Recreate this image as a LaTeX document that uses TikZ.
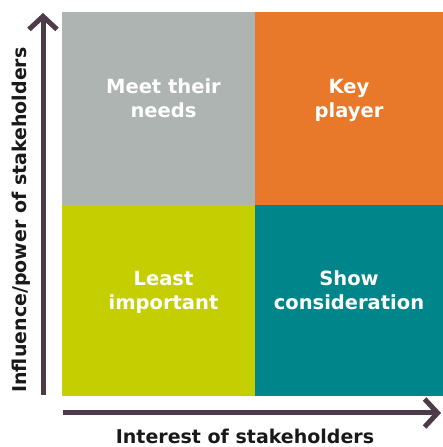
\documentclass[tikz,border=0pt]{standalone}
\usepackage{fontspec}
\setmainfont{DejaVu Sans}
\usetikzlibrary{%
  arrows.meta,%
  positioning% wg. " of "
}
\definecolor{quadgrey}{HTML}{AEB4B2}
\definecolor{quadorange}{HTML}{E8792B}
\definecolor{quadlime}{HTML}{C4CE00}
\definecolor{quadteal}{HTML}{00868A}
\definecolor{axiscol}{HTML}{4E3B4A}

\begin{document}
\begin{tikzpicture}[
    x=1pt,y=1pt,
    >={Straight Barb[length=13pt,width=28pt]},
    quad/.style={rectangle,inner sep=0pt,outer sep=0pt,
        minimum width=193pt,minimum height=193pt,anchor=north west},
    quadlabel/.style={text=white,font=\bfseries\fontsize{19.5}{24}\selectfont,
        align=center,text depth=0pt},
    axis/.style={->,line width=5pt,color=axiscol},
    axislabel/.style={text=black!90,font=\bfseries\fontsize{19}{22}\selectfont,
        anchor=base,inner sep=0pt},
    node distance=0pt
  ]
    \useasboundingbox (0,0) rectangle (442,447);

    % the four quadrants
    \node [quad,fill=quadgrey]                        (meet)  at (62,435) {};
    \node [quad,fill=quadorange,minimum width=188pt,
           right=of meet.north east,anchor=north west] (key)   {};
    \node [quad,fill=quadlime,minimum height=191pt,
           below=of meet.south west,anchor=north west] (least) {};
    \node [quad,fill=quadteal,minimum width=188pt,minimum height=191pt,
           right=of least.north east,anchor=north west] (show) {};

    \node [quadlabel] at ([xshift=5pt,yshift=10pt]meet.center)  {Meet their\\needs};
    \node [quadlabel] at ([yshift=10pt]key.center)              {Key\\player};
    \node [quadlabel] at ([xshift=5pt,yshift=10pt]least.center) {Least\\important};
    \node [quadlabel] at ([yshift=10pt]show.center)             {Show\\consideration};

    % axes
    \coordinate (yfoot) at (43,52);
    \coordinate (ytip)  at (43,434);
    \coordinate (xfoot) at (63,34);
    \coordinate (xtip)  at (441,34);
    \draw [axis] (yfoot) -- (ytip);
    \draw [axis] (xfoot) -- (xtip);

    \node [axislabel] (xlabel) at (245,4) {Interest of stakeholders};
    \node [axislabel,rotate=90] (ylabel) at (27,227) {Influence/power of stakeholders};
\end{tikzpicture}
\end{document}
